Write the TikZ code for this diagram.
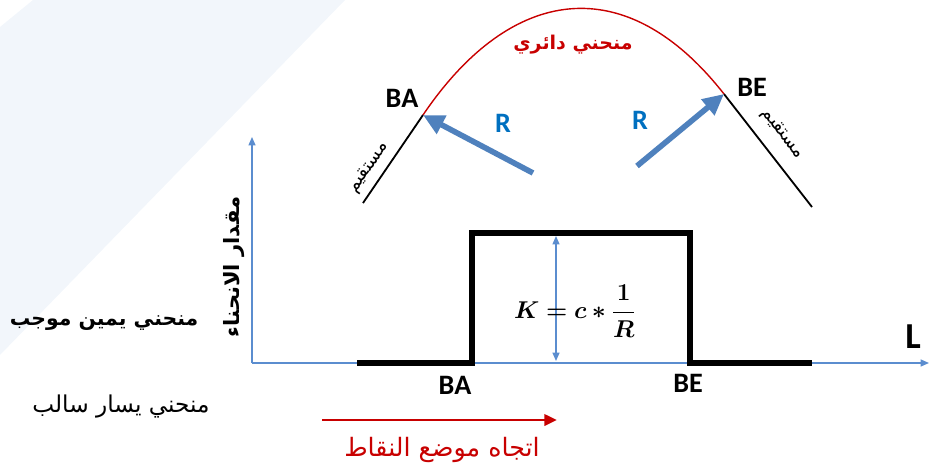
\documentclass[tikz,border=0pt]{standalone}
\usepackage{amsmath,amssymb}
\usepackage{bm}
\usepackage{fontspec}
\setmainfont{Carlito}
\newfontfamily\arabicfont[Script=Arabic]{DejaVu Sans}
\TeXXeTstate=1
\usetikzlibrary{arrows.meta}

\definecolor{bandblue}{RGB}{242,246,251}
\definecolor{axisblue}{RGB}{91,141,207}
\definecolor{radblue}{RGB}{79,129,189}
\definecolor{rtext}{RGB}{0,112,192}
\definecolor{arcred}{RGB}{200,0,0}

\begin{document}
\begin{tikzpicture}[x=0.025cm, y=-0.025cm,
    axis/.style={axisblue, line width=0.9pt, -{Triangle[length=6pt, width=5pt]}},
    curvestep/.style={black, line width=3.6pt, line join=miter},
    straight/.style={black, line width=1.3pt},
    radius arrow/.style={radblue, line width=4pt, -{Triangle[length=15pt, width=14pt]}},
    lbl/.style={font=\fontsize{20}{22}\selectfont\bfseries},
    arlbl/.style={font=\arabicfont\fontsize{15}{18}\selectfont},
    straightlbl/.style={inner sep=0pt, font=\arabicfont\fontsize{13}{15}\selectfont}]
  \useasboundingbox (0,0) rectangle (929,469);

  % Background band
  \fill[bandblue] (33,0) -- (345,0) -- (0,355) -- (0,27) -- cycle;

  % Axes
  \coordinate (O) at (252,363);
  \coordinate (ytip) at (252,137);
  \coordinate (xtip) at (929,363);
  \draw[axis] (O) -- (ytip);
  \draw[axis] (O) -- (xtip);
  \node[arlbl, inner sep=0pt, rotate=90] (kaxis) at (234,267) {\arabicfont\bfseries\beginR مقدار الانحناء\endR};
  \node[lbl, font=\fontsize{26}{28}\selectfont\bfseries] (L) at (913,337) {L};

  % Curvature step
  \coordinate (s0) at (357,363);
  \coordinate (BAb) at (472,363);
  \coordinate (BAt) at (472,233);
  \coordinate (BEt) at (690,233);
  \coordinate (BEb) at (690,363);
  \coordinate (s5) at (812,363);
  \draw[curvestep] (s0) -- (BAb) -- (BAt) -- (BEt) -- (BEb) -- (s5);
  \coordinate (ktop) at (556,236);
  \coordinate (kbot) at (556,361);
  \draw[axisblue, line width=0.9pt, {Triangle[length=6pt, width=5pt]}-{Triangle[length=6pt, width=5pt]}] (ktop) -- (kbot);
  \node (formula) at (575,311) {\fontsize{17}{20}\selectfont$\bm{K = c * \dfrac{1}{R}}$};
  \node[lbl] (BAlow) at (455,385) {BA};
  \node[lbl] (BElow) at (688,383) {BE};

  % Road plan: straight - circular arc - straight
  \coordinate (la) at (363,203);
  \coordinate (BA) at (423,115);
  \coordinate (BE) at (724,94);
  \coordinate (lb) at (812,207);
  \draw[straight] (la) -- (BA);
  \draw[straight] (BE) -- (lb);
  \draw[arcred, line width=1pt] (BA) .. controls (511,-15) and (626,-31) .. (BE);
  \node[lbl] (BAtop) at (402,98) {BA};
  \node[lbl] (BEtop) at (752,87) {BE};
  \node[arlbl, arcred, font=\arabicfont\fontsize{13.5}{16}\selectfont\bfseries] (arc) at (573,45) {\beginR منحني دائري\endR};
  \node[straightlbl, rotate=56] (stA) at (369,168) {\beginR مستقيم\endR};
  \node[straightlbl, rotate=-52] (stE) at (782,134) {\beginR مستقيم\endR};

  % Radius vectors
  \coordinate (rA) at (533,173);
  \coordinate (rE) at (637,166);
  \draw[radius arrow] (rA) -- (BA);
  \draw[radius arrow] (rE) -- (BE);
  \node[lbl, rtext] (RA) at (503,123) {R};
  \node[lbl, rtext] (RE) at (640,120) {R};

  % Sign convention
  \node[arlbl, font=\arabicfont\fontsize{14.5}{17}\selectfont\bfseries] (pos) at (104,323) {\beginR منحني يمين موجب\endR};
  \node[arlbl, font=\arabicfont\fontsize{16.5}{19}\selectfont] (neg) at (121,407) {\beginR منحني يسار سالب\endR};

  % Stationing direction
  \coordinate (d0) at (322,420);
  \coordinate (d1) at (557,420);
  \draw[arcred, line width=2pt, -{Triangle[length=9pt, width=8pt]}] (d0) -- (d1);
  \node[arlbl, arcred, font=\arabicfont\fontsize{18}{21}\selectfont] (dir) at (442,450) {\beginR اتجاه موضع النقاط\endR};
\end{tikzpicture}
\end{document}
